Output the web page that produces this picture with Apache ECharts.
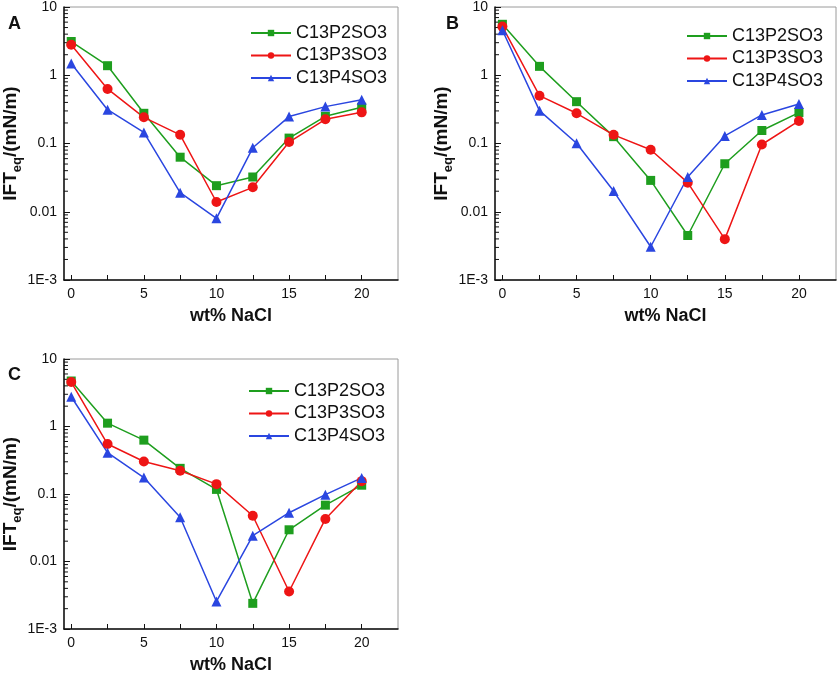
<!DOCTYPE html>
<html><head><meta charset="utf-8">
<script src="https://cdn.jsdelivr.net/npm/echarts@6/dist/echarts.min.js"></script>
<style>html,body{margin:0;padding:0;background:#fff}#c{width:837px;height:675px}</style>
</head><body><div id="c"></div>
<script>
// ---- data ----
const xValues = [0, 2.5, 5, 7.5, 10, 12.5, 15, 17.5, 20];
const seriesNames = ['C13P2SO3', 'C13P3SO3', 'C13P4SO3'];
const panelLabels = ['A', 'B', 'C'];

const A_P2 = [3.12, 1.38, 0.277, 0.063, 0.0241, 0.0323, 0.12, 0.25, 0.339];
const A_P3 = [2.79, 0.63, 0.242, 0.134, 0.0139, 0.0228, 0.105, 0.226, 0.286];
const A_P4 = [1.49, 0.313, 0.145, 0.019, 0.008, 0.0865, 0.248, 0.347, 0.439];

const B_P2 = [5.58, 1.35, 0.41, 0.126, 0.0288, 0.00449, 0.0505, 0.155, 0.284];
const B_P3 = [5.16, 0.502, 0.277, 0.134, 0.081, 0.0267, 0.00397, 0.0967, 0.214];
const B_P4 = [4.56, 0.303, 0.101, 0.0201, 0.00307, 0.0323, 0.129, 0.262, 0.379];

const C_P2 = [4.72, 1.12, 0.628, 0.24, 0.117, 0.0024, 0.0295, 0.0684, 0.135];
const C_P3 = [4.56, 0.55, 0.303, 0.221, 0.14, 0.0477, 0.00359, 0.0427, 0.155];
const C_P4 = [2.76, 0.41, 0.175, 0.0452, 0.00256, 0.0241, 0.0528, 0.0977, 0.173];

const xTickLabels = [0, 5, 10, 15, 20];
const xTickMarks = [0, 2.5, 5, 7.5, 10, 12.5, 15, 17.5, 20];
const yTickLabels = ['1E-3', '0.01', '0.1', '1', '10'];
const yDecades = [0.001, 0.01, 0.1, 1];
const yMinorMultipliers = [2, 3, 4, 5, 6, 7, 8, 9];

const panels = [[A_P2, A_P3, A_P4], [B_P2, B_P3, B_P4], [C_P2, C_P3, C_P4]];

// ---- style ----
const FONT = '"Liberation Sans", Arial, sans-serif';
const colors = ['#1e9e1e', '#ee1515', '#2a46e0'];
const symbols = ['rect', 'circle', 'triangle'];
const symbolSizes = [9, 10, 10];
const X_MIN = -0.5, X_MAX = 22.5;

const grids = [
  {left: 57, top: 6, width: 341, height: 274},
  {left: 495, top: 6, width: 341, height: 274},
  {left: 57, top: 359, width: 341, height: 274}
];
const legendPos = [{left: 250, top: 24}, {left: 686, top: 27}, {left: 248, top: 382}];
const labelPos = [{x: 8, y: 15}, {x: 446, y: 15}, {x: 8, y: 366}];

const minorTicks = [];
yDecades.forEach(d => yMinorMultipliers.forEach(m => minorTicks.push(d * m)));

const option = {
  animation: false,
  backgroundColor: '#fff',
  textStyle: {fontFamily: FONT},
  grid: grids.map(g => Object.assign({show: true, borderColor: '#9a9a9a', borderWidth: 1, containLabel: false}, g)),
  xAxis: grids.map((g, i) => ({
    type: 'value', gridIndex: i, min: X_MIN, max: X_MAX,
    name: 'wt% NaCl', nameLocation: 'middle', nameGap: 27,
    nameTextStyle: {fontFamily: FONT, fontWeight: 'bold', fontSize: 18, color: '#111'},
    axisLine: {show: true, onZero: false, lineStyle: {color: '#111', width: 1.5}},
    axisTick: {show: true, inside: true, length: 5, customValues: xTickMarks, lineStyle: {color: '#111', width: 1}},
    axisLabel: {customValues: xTickLabels, fontSize: 14, color: '#111', margin: 7, fontFamily: FONT},
    splitLine: {show: false}
  })),
  yAxis: grids.map((g, i) => ({
    type: 'log', logBase: 10, gridIndex: i, min: 0.001, max: 10,
    name: '{a|IFT}{b|eq}{a|/(mN/m)}', nameLocation: 'middle', nameGap: 34, nameRotate: 90,
    nameTextStyle: {
      rich: {
        a: {fontFamily: FONT, fontWeight: 'bold', fontSize: 19, color: '#111', lineHeight: 26, verticalAlign: 'middle'},
        b: {fontFamily: FONT, fontWeight: 'bold', fontSize: 13, color: '#111', verticalAlign: 'bottom'}
      }
    },
    axisLine: {show: true, onZero: false, lineStyle: {color: '#111', width: 1.5}},
    axisTick: {show: true, inside: true, length: 6, lineStyle: {color: '#111', width: 1}},
    axisLabel: {
      fontSize: 14, color: '#111', margin: 7, fontFamily: FONT,
      formatter: v => yTickLabels[Math.round(Math.log10(v)) + 3]
    },
    splitLine: {show: false},
    minorTick: {show: false}
  })),
  legend: grids.map((g, i) => ({
    orient: 'vertical', left: legendPos[i].left, top: legendPos[i].top,
    data: seriesNames, itemWidth: 40, itemHeight: 8, itemGap: 4.5, padding: 0,
    textStyle: {fontFamily: FONT, fontSize: 18, color: '#111'},
    selectedMode: false
  })),
  graphic: panelLabels.map((t, i) => ({
    type: 'text', left: labelPos[i].x, top: labelPos[i].y,
    style: {text: t, font: 'bold 18px ' + FONT, fill: '#111'}
  })),
  series: []
};

panels.forEach((pData, pi) => {
  pData.forEach((vals, si) => {
    option.series.push({
      type: 'line', name: seriesNames[si], xAxisIndex: pi, yAxisIndex: pi,
      data: xValues.map((x, k) => [x, vals[k]]),
      symbol: symbols[si], symbolSize: symbolSizes[si],
      lineStyle: {color: colors[si], width: 1.5},
      itemStyle: {color: colors[si]},
      clip: false
    });
  });
  option.series.push({
    type: 'custom', xAxisIndex: pi, yAxisIndex: pi, silent: true, clip: false,
    data: minorTicks.map(v => [X_MIN, v]),
    renderItem: (params, api) => {
      const p = api.coord([api.value(0), api.value(1)]);
      return {type: 'line', shape: {x1: p[0], y1: p[1], x2: p[0] + 4, y2: p[1]},
              style: {stroke: '#111', lineWidth: 1}};
    }
  });
});

const chart = echarts.init(document.getElementById('c'), null, {renderer: 'canvas'});
chart.setOption(option);
</script>
</body></html>
